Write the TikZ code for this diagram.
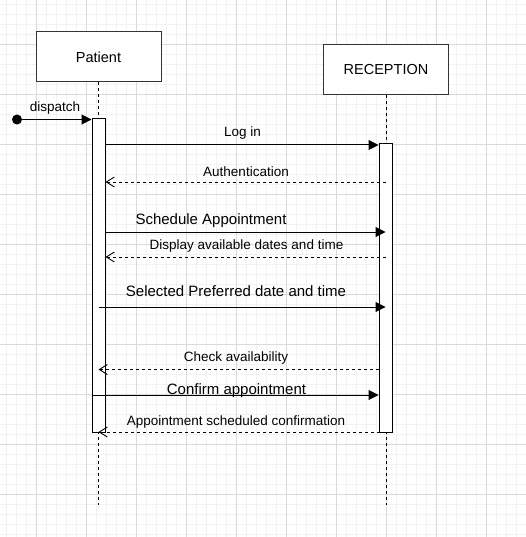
\documentclass[tikz,border=0pt]{standalone}
\usepackage{fontspec}
\setmainfont{Liberation Sans}
\usetikzlibrary{arrows.meta,positioning}
\definecolor{gridminor}{HTML}{F2F2F2}
\definecolor{gridmajor}{HTML}{DADADA}
\definecolor{boxline}{HTML}{333333}

\tikzset{
  actorbox/.style={draw=boxline, line width=1pt, fill=white, minimum width=125pt,
                   minimum height=50pt, inner sep=0pt, font=\fontsize{14.5}{17}\selectfont},
  actbar/.style={draw=black, line width=1pt, fill=white, minimum width=13pt, inner sep=0pt},
  lifeline/.style={draw=black, line width=0.9pt, dash pattern=on 3pt off 3pt},
  callmsg/.style={draw=black, line width=1pt, -{Triangle[length=10pt,width=10pt]}},
  replymsg/.style={draw=black, line width=0.9pt, dash pattern=on 3pt off 3pt,
                   -{Straight Barb[length=8pt,width=10pt]}},
  smalllbl/.style={font=\fontsize{13.5}{16}\selectfont, inner sep=0pt},
  biglbl/.style={font=\fontsize{15}{18}\selectfont, inner sep=0pt},
}

\begin{document}
\begin{tikzpicture}[x=1pt, y=-1pt]
  % background grid
  \fill[white] (0,0) rectangle (526,537);
  \useasboundingbox (0,0) rectangle (526,537);
  \foreach \gx in {6,16,...,526} \draw[gridminor, line width=0.8pt] (\gx,0) -- (\gx,537);
  \foreach \gy in {4,14,...,534} \draw[gridminor, line width=0.8pt] (0,\gy) -- (526,\gy);
  \foreach \gx in {36,86,...,486} \draw[gridmajor, line width=0.8pt] (\gx,0) -- (\gx,537);
  \foreach \gy in {44,94,...,494} \draw[gridmajor, line width=0.8pt] (0,\gy) -- (526,\gy);

  % actors and lifelines
  \node[actorbox] (patient) at (98.5,57) {Patient};
  \node[actorbox] (reception) at (386,69.5) {RECEPTION};
  \coordinate (patend) at (98.5,505);
  \coordinate (recend) at (386,505);
  \draw[lifeline] (patient.south) -- (patend);
  \draw[lifeline] (reception.south) -- (recend);

  % activation bars
  \node[actbar, minimum height=313pt] (pbar) at (98.5,275.5) {};
  \node[actbar, minimum height=288pt] (rbar) at (385.5,288) {};

  % found message
  \node[fill=black, circle, inner sep=0pt, minimum size=10pt] (start) at (17,119.5) {};
  \draw[callmsg] (start) -- (start -| pbar.west);
  \node[smalllbl] (dispatchlbl) at (55,108) {dispatch};

  % messages
  \draw[callmsg] (pbar.east |- 0,145) -- (rbar.west |- 0,145);
  \node[smalllbl] (loginlbl) at (242.5,133.5) {Log in};

  \draw[replymsg] (rbar.center |- 0,182) -- (pbar.east |- 0,182);
  \node[smalllbl] (authlbl) at (246,171.5) {Authentication};

  \draw[callmsg] (pbar.east |- 0,232) -- (rbar.center |- 0,232);
  \node[biglbl] (schedlbl) at (211,221) {Schedule Appointment};

  \draw[replymsg] (rbar.center |- 0,257) -- (pbar.east |- 0,257);
  \node[smalllbl] (displbl) at (246.5,246.5) {Display available dates and time};

  \draw[callmsg] (pbar.center |- 0,307) -- (rbar.center |- 0,307);
  \node[biglbl] (preflbl) at (236,291) {Selected Preferred date and time};

  \draw[replymsg] (rbar.west |- 0,369.5) -- (pbar.center |- 0,369.5);
  \node[smalllbl] (checklbl) at (236,358.5) {Check availability};

  \draw[callmsg] (pbar.west |- 0,395) -- (rbar.west |- 0,395);
  \node[biglbl] (confirmlbl) at (236.5,391) {Confirm appointment};

  \draw[replymsg] (rbar.center |- 0,432) -- (pbar.center |- 0,432);
  \node[smalllbl] (donelbl) at (236,422.5) {Appointment scheduled confirmation};
\end{tikzpicture}
\end{document}
